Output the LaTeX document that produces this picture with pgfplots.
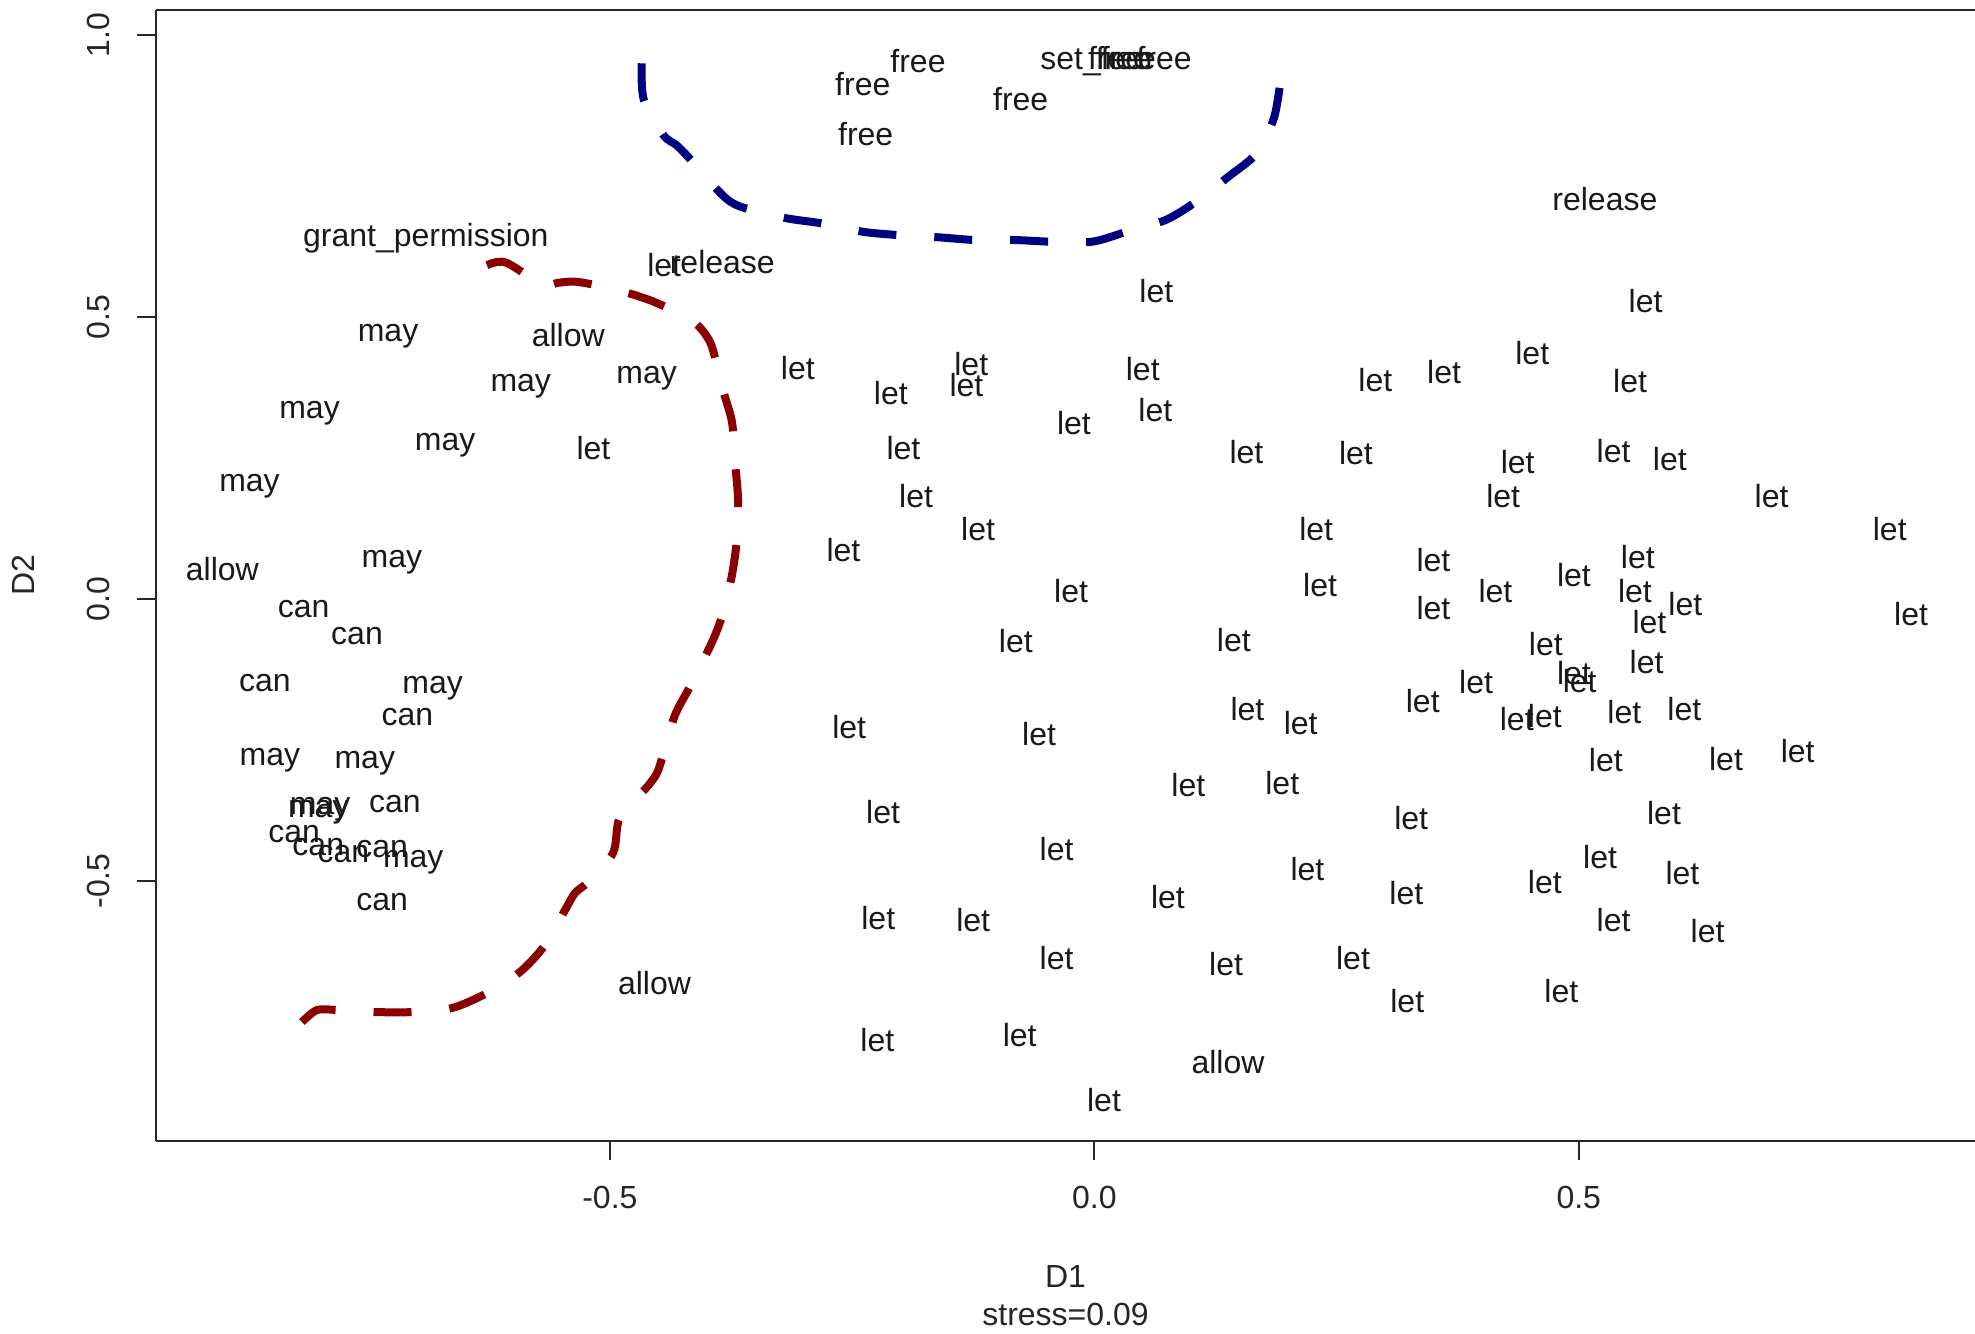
\documentclass[border=0pt]{standalone}
\usepackage{fontspec}
\setmainfont{Liberation Sans}
\usepackage{pgfplots}
\pgfplotsset{compat=1.18}
\usepackage{pgfplotstable}
\definecolor{rdark}{RGB}{139,0,0}
\definecolor{navyb}{RGB}{0,0,128}
\definecolor{axgray}{RGB}{40,40,40}

\pgfplotstableread{
x y lab
0.527 0.709 release
-0.690 0.645 grant\_permission
-0.444 0.592 let
-0.384 0.598 release
0.064 0.546 let
0.569 0.529 let
-0.729 0.477 may
-0.543 0.468 allow
-0.592 0.388 may
-0.462 0.403 may
-0.306 0.410 let
-0.127 0.417 let
-0.132 0.379 let
-0.210 0.366 let
0.050 0.408 let
0.063 0.335 let
-0.021 0.312 let
0.290 0.388 let
0.361 0.403 let
0.452 0.437 let
0.553 0.386 let
-0.810 0.341 may
-0.670 0.283 may
-0.517 0.267 let
-0.197 0.267 let
0.157 0.261 let
0.270 0.259 let
0.437 0.243 let
0.536 0.263 let
0.594 0.248 let
-0.872 0.211 may
-0.184 0.182 let
0.422 0.183 let
0.699 0.183 let
-0.120 0.125 let
0.229 0.125 let
0.821 0.125 let
-0.725 0.077 may
-0.259 0.087 let
0.350 0.069 let
0.561 0.075 let
-0.900 0.053 allow
-0.816 -0.012 can
-0.024 0.015 let
0.233 0.024 let
0.414 0.015 let
0.495 0.042 let
0.558 0.015 let
0.350 -0.016 let
0.610 -0.009 let
0.573 -0.041 let
0.843 -0.027 let
-0.761 -0.061 can
-0.081 -0.074 let
0.144 -0.072 let
0.466 -0.079 let
0.570 -0.112 let
0.495 -0.131 let
0.501 -0.145 let
-0.856 -0.143 can
-0.683 -0.148 may
0.394 -0.148 let
0.339 -0.181 let
-0.709 -0.204 can
0.158 -0.195 let
0.213 -0.220 let
0.436 -0.213 let
0.465 -0.208 let
0.547 -0.201 let
0.609 -0.195 let
-0.253 -0.227 let
-0.057 -0.240 let
-0.851 -0.275 may
-0.753 -0.280 may
0.528 -0.286 let
0.652 -0.284 let
0.726 -0.269 let
0.097 -0.329 let
0.194 -0.327 let
-0.801 -0.367 may
-0.799 -0.362 may
-0.722 -0.358 can
-0.218 -0.378 let
0.327 -0.389 let
0.588 -0.380 let
-0.826 -0.411 can
-0.801 -0.434 can
-0.775 -0.447 can
-0.735 -0.438 can
-0.703 -0.456 may
-0.039 -0.443 let
0.522 -0.458 let
0.220 -0.478 let
0.607 -0.485 let
0.465 -0.501 let
-0.735 -0.532 can
0.322 -0.521 let
0.076 -0.528 let
-0.223 -0.566 let
-0.125 -0.570 let
0.536 -0.570 let
0.633 -0.588 let
-0.039 -0.637 let
0.267 -0.637 let
0.136 -0.648 let
-0.454 -0.681 allow
0.482 -0.695 let
0.323 -0.713 let
-0.077 -0.773 let
-0.224 -0.782 let
0.138 -0.820 allow
0.010 -0.889 let
-0.182 0.954 free
-0.239 0.913 free
-0.236 0.824 free
-0.076 0.886 free
0.004 0.959 set\_free
0.022 0.959 free
0.030 0.959 free
0.072 0.959 free
}\labels

\begin{document}
\begin{tikzpicture}
\begin{axis}[
  scale only axis,
  width=545.7pt, height=339.3pt,
  xmin=-0.9685, xmax=0.909, ymin=-0.961, ymax=1.0443,
  axis x line*=box, axis y line*=left,
  axis line style={-, axgray, line width=0.6pt},
  tick style={axgray, line width=0.6pt},
  tick align=outside, major tick length=5.7pt,
  xtick={-0.5,0,0.5}, xticklabels={-0.5,0.0,0.5},
  ytick={-0.5,0,0.5,1}, yticklabels={-0.5,0.0,0.5,1.0},
  xtick pos=bottom, ytick pos=left,
  ticklabel style={font=\fontsize{9.6}{11}\selectfont, text=black!85},
  xticklabel style={anchor=center, yshift=-11.3pt},
  yticklabel style={rotate=90, anchor=center},
  yticklabel shift=11.5pt,
  xlabel={D1\\stress=0.09},
  xlabel style={at={(axis description cs:0.5,-0.1096)}, anchor=north, align=center,
    inner sep=0pt, font=\fontsize{9.6}{11.4}\selectfont, text=black!85},
  ylabel={D2},
  ylabel style={at={(axis description cs:-0.0731,0.5)}, anchor=center, rotate=0,
    inner sep=0pt, font=\fontsize{9.6}{11}\selectfont, text=black!85},
]
\addplot[draw=none, mark=none, point meta=explicit symbolic,
  nodes near coords, nodes near coords align={center},
  every node near coord/.append style={anchor=center, inner sep=0pt,
    text height=6.9pt, text depth=0pt, font=\fontsize{9.6}{11}\selectfont, text=black!90}]
  table[x=x, y=y, meta=lab] {\labels};

\addplot[smooth, tension=0.5, color=rdark, line width=2.4pt, line cap=butt,
  dash pattern=on 11.4pt off 11.4pt] coordinates {
(-0.8178,-0.750) (-0.8023,-0.7287) (-0.7817,-0.7287) (-0.7425,-0.7323)
(-0.7032,-0.7323) (-0.6630,-0.7252) (-0.6268,-0.6986) (-0.5928,-0.6613)
(-0.5670,-0.6135) (-0.5463,-0.5514) (-0.5360,-0.5213) (-0.5226,-0.5018)
(-0.4968,-0.4504) (-0.4896,-0.3865) (-0.4617,-0.3333) (-0.4514,-0.3085)
(-0.4452,-0.2766) (-0.4328,-0.2057) (-0.4153,-0.1489) (-0.3936,-0.0727)
(-0.3833,-0.0248) (-0.3740,0.0426) (-0.3688,0.1082) (-0.3678,0.1791)
(-0.3709,0.2429) (-0.3740,0.3138) (-0.3843,0.3759) (-0.3946,0.4468)
(-0.4049,0.4770) (-0.4194,0.4982) (-0.4566,0.5284) (-0.4927,0.5479)
(-0.5329,0.5621) (-0.5546,0.5603) (-0.5701,0.5532) (-0.5877,0.5762)
(-0.6063,0.5957) (-0.6166,0.5975) (-0.6310,0.5887) (-0.6393,0.5727)
};

\addplot[smooth, tension=0.5, color=navyb, line width=2.4pt, line cap=butt,
  dash pattern=on 11.4pt off 11.4pt] coordinates {
(-0.4672,0.9498) (-0.4650,0.8848) (-0.4449,0.8227) (-0.4315,0.8050)
(-0.4180,0.7814) (-0.3890,0.7252) (-0.3756,0.7044) (-0.3599,0.6927)
(-0.3175,0.6750) (-0.2818,0.6661) (-0.2393,0.6512) (-0.2035,0.6454)
(-0.1610,0.6413) (-0.1230,0.6365) (-0.0829,0.6365) (-0.0449,0.6335)
(-0.0024,0.6335) (0.0333,0.6512) (0.0736,0.6720) (0.1049,0.7044)
(0.1384,0.7488) (0.1674,0.7902) (0.1853,0.8523) (0.1920,0.9172)
};
\end{axis}
\pgfresetboundingbox
\path[use as bounding box] ([xshift=-46.8pt,yshift=-57.6pt]current axis.south west)
  rectangle ([yshift=3pt]current axis.north east);
\end{tikzpicture}
\end{document}
